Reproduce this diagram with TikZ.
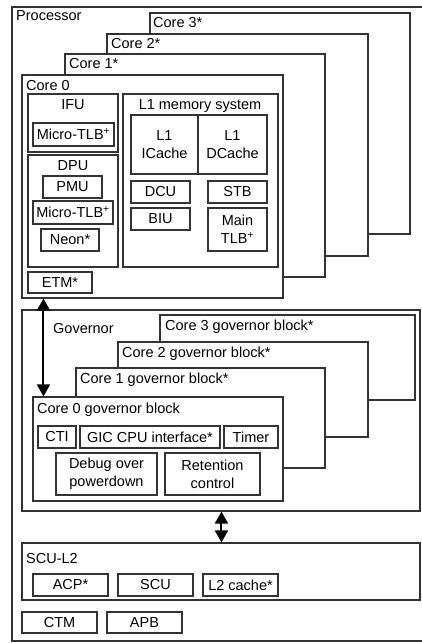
\documentclass[tikz,border=0pt]{standalone}
\usepackage{fontspec}
\setmainfont{Liberation Sans}
\usetikzlibrary{arrows.meta}
\tikzset{
  blk/.style={draw=black!80, line width=1.1pt, fill=white, inner sep=0pt, align=center},
  lbl/.style={inner sep=0pt, anchor=west},
  clbl/.style={inner sep=0pt},
  dbl/.style={line width=2pt, {Triangle[width=13pt,length=12pt]}-{Triangle[width=13pt,length=12pt]}}
}
\newcommand{\bx}[6]{\node[blk, minimum width={(#4-#2)*1pt}, minimum height={(#5-#3)*1pt}] (#1) at ({(#2+#4)/2},{(#3+#5)/2}) {#6};}
\begin{document}
\begin{tikzpicture}[x=1pt,y=-1pt,font=\fontsize{14.5pt}{18pt}\selectfont]
\useasboundingbox (0,0) rectangle (421,643);
\fill[white] (0,0) rectangle (421,643);
% Processor
\bx{proc}{12}{7}{440}{641}{}
\node[lbl] (proclbl) at (16,16) {Processor};
% cores
\bx{core3}{150}{13}{410}{234}{}
\node[lbl] (core3lbl) at (153,23) {Core 3*};
\bx{core2}{107}{34}{368}{256}{}
\node[lbl] (core2lbl) at (111,44) {Core 2*};
\bx{core1}{65}{54}{325}{277}{}
\node[lbl] (core1lbl) at (69,64) {Core 1*};
\bx{core0}{22}{75}{283}{298}{}
\node[lbl] (core0lbl) at (26,86) {Core 0};
% IFU
\bx{ifu}{28}{94}{118}{152}{}
\node[clbl] (ifulbl) at (73,105) {IFU};
\bx{itlb}{33}{123}{114}{146}{Micro-TLB\textsuperscript{+}}
% DPU
\bx{dpu}{28}{155}{118}{267}{}
\node[clbl] (dpulbl) at (73,166) {DPU};
\bx{pmu}{43}{176}{102}{198}{PMU}
\bx{dtlb}{33}{201}{113}{224}{Micro-TLB\textsuperscript{+}}
\bx{neon}{41}{229}{99}{251}{Neon*}
% L1 memory system
\bx{lone}{123}{94}{278}{267}{}
\node[clbl] (lonelbl) at (200,106) {L1 memory system};
\bx{licache}{131}{115}{198}{174}{L1\\ICache}
\bx{ldcache}{198}{115}{267}{174}{L1\\DCache}
\bx{dcu}{131}{181}{190}{203}{DCU}
\bx{stb}{208}{181}{267}{203}{STB}
\bx{biu}{131}{208}{190}{230}{BIU}
\bx{mtlb}{208}{208}{267}{251}{Main\\TLB\textsuperscript{+}}
\bx{etm}{28}{272}{92}{293}{ETM*}
% Governor
\bx{gov}{22}{310}{420}{511}{}
\node[lbl] (govlbl) at (53,329) {Governor};
\bx{gov3}{160}{315}{415}{400}{}
\node[lbl] (gov3lbl) at (165,327) {Core 3 governor block*};
\bx{gov2}{118}{342}{368}{437}{}
\node[lbl] (gov2lbl) at (122,354) {Core 2 governor block*};
\bx{gov1}{76}{368}{325}{468}{}
\node[lbl] (gov1lbl) at (80,380) {Core 1 governor block*};
\bx{gov0}{33}{397}{283}{501}{}
\node[lbl] (gov0lbl) at (37,410) {Core 0 governor block};
\bx{cti}{38}{426}{76}{448}{CTI}
\bx{gic}{80}{426}{220}{448}{GIC CPU interface*}
\bx{timer}{224}{426}{278}{448}{Timer}
\bx{debug}{56}{453}{157}{495}{Debug over\\powerdown}
\bx{ret}{165}{453}{260}{495}{Retention\\control}
% SCU-L2
\bx{scul}{22}{543}{420}{600}{}
\node[lbl] (scullbl) at (26,559) {SCU-L2};
\bx{acp}{33}{574}{108}{596}{ACP*}
\bx{scu}{118}{574}{193}{596}{SCU}
\bx{ltwo}{203}{574}{278}{596}{L2 cache*}
\bx{ctm}{22}{612}{97}{633}{CTM}
\bx{apb}{107}{612}{182}{633}{APB}
% arrows
\draw[dbl] ([xshift=22pt]core0.south west) -- ([xshift=11pt]gov0.north west);
\draw[dbl] ([xshift=200pt]gov.south west) -- ([xshift=200pt]scul.north west);
\end{tikzpicture}
\end{document}
